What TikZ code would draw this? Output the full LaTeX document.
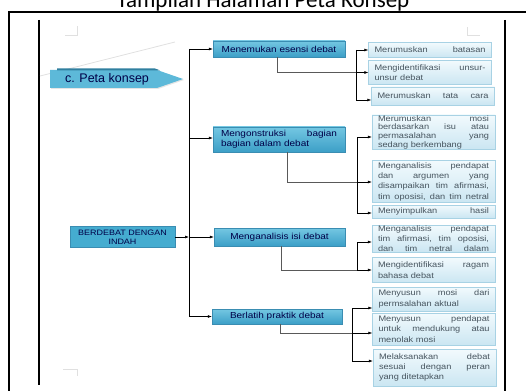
\documentclass[tikz,border=0pt]{standalone}
\usepackage{fontspec}
\setmainfont{Liberation Sans}
\newfontfamily\titlefont{Carlito}
\newfontfamily\wf[FakeStretch=1.15]{Liberation Sans}
\usetikzlibrary{arrows.meta,shadows}
\colorlet{boxtext}{black!72!blue}
\colorlet{leaftext}{black!72!cyan}
\definecolor{lonetop}{HTML}{74C7E2}
\definecolor{lonebot}{HTML}{3C9FC7}
\definecolor{loneborder}{HTML}{3A8DB2}
\definecolor{leaftop}{HTML}{F2FAFD}
\definecolor{leafbot}{HTML}{CBE6F2}
\definecolor{leafborder}{HTML}{A8D2E4}
\definecolor{rootfill}{HTML}{45ACD0}
\definecolor{arrowfill}{HTML}{5DB9D9}
\tikzset{
  lvlbox/.style={draw=loneborder, line width=0.4pt, top color=lonetop, bottom color=lonebot,
    text=boxtext, font=\wf\fontsize{8.7}{10}\selectfont, inner sep=0pt,
    drop shadow={shadow xshift=0.8pt, shadow yshift=-0.8pt, opacity=0.35}},
  leaf/.style={draw=leafborder, line width=0.4pt, top color=leaftop, bottom color=leafbot,
    text=leaftext, font=\wf\fontsize{8}{10.3}\selectfont, align=left, inner sep=0pt,
    text width=111pt, minimum width=123pt,
    drop shadow={shadow xshift=0.7pt, shadow yshift=-0.7pt, opacity=0.25}},
  arr/.style={-{Latex[length=4pt,width=3pt]}, line width=0.6pt, black},
  trunkline/.style={line width=0.6pt, black},
  downline/.style={line width=0.9pt, black!65},
  faint/.style={line width=0.8pt, black!12},
}
\begin{document}
\begin{tikzpicture}[x=1pt,y=-1pt]
\useasboundingbox (0,0) rectangle (526,390);
% title (cut off at the top, as in the reference)
\node[font=\titlefont\fontsize{23}{25}\selectfont, anchor=base] (title) at (263,8) {Tampilan Halaman Peta Konsep};
% frame
\draw[line width=1.4pt] (9,395) -- (9,12) -- (530,12);
\draw[line width=2.8pt] (505,20) -- (505,395);
\draw[line width=1.3pt] (39,20) -- (39,385);
% faint scan marks
\draw[faint] (40,76) -- (175,42);
\draw[faint] (65,35) -- (77,35) -- (77,26);
\draw[faint] (480,35) -- (467,35) -- (467,27);
\draw[faint] (63,369) -- (77,369) -- (77,376);
% c. Peta konsep arrow shape
\fill[black!10] (51,71) -- (158,71) -- (184,80) -- (158,89) -- (51,89) -- cycle;
\fill[arrowfill] (50,70) -- (157,70) -- (183,79) -- (157,88) -- (50,88) -- cycle;
\fill[lonebot!80!black] (57,68.5) -- (155,68.5) -- (160,70.3) -- (57,70.3) -- cycle;
% root box
\node[draw=loneborder, line width=0.4pt, fill=rootfill, minimum width=105pt, minimum height=21pt,
  inner sep=0pt] (root) at (122.5,237) {};
% level one
\node[lvlbox, minimum width=132pt, minimum height=16pt] (b1) at (279,49) {Menemukan esensi debat};
\node[lvlbox, minimum width=132pt, minimum height=25pt, text width=116pt, align=left] (b2) at (279,139.5) {Mengonstruksi\hfill bagian\\bagian dalam debat};
\node[lvlbox, minimum width=131pt, minimum height=18pt] (b3) at (279.5,237) {Menganalisis isi debat};
\node[lvlbox, minimum width=130pt, minimum height=15pt] (b4) at (277,316.5) {Berlatih praktik debat};
% leaves group 1
\node[leaf, minimum height=15pt] (l11) at (430,50) {Merumuskan\hfill batasan};
\node[leaf, minimum height=24pt] (l12) at (430,72.5) {Mengidentifikasi\hfill unsur-\\unsur debat};
\node[leaf, minimum height=18pt] (l13) at (433,96) {Merumuskan\hfill tata\hfill cara};
% leaves group 2
\node[leaf, minimum height=34pt, font=\wf\fontsize{8}{8.7}\selectfont] (l21) at (433.5,132) {Merumuskan\hfill mosi\\berdasarkan\hfill isu\hfill atau\\permasalahan\hfill yang\\sedang berkembang};
\node[leaf, minimum height=42pt] (l22) at (433.5,181.5) {Menganalisis\hfill pendapat\\dan\hfill argumen\hfill yang\\disampaikan\hfill tim\hfill afirmasi,\\tim\hfill oposisi,\hfill dan\hfill tim\hfill netral};
\node[leaf, minimum height=13pt] (l23) at (433.5,211.5) {Menyimpulkan\hfill hasil};
% leaves group 3
\node[leaf, minimum height=27pt] (l31) at (433.5,238.5) {Menganalisis\hfill pendapat\\tim\hfill afirmasi,\hfill tim\hfill oposisi,\\dan\hfill tim\hfill netral\hfill dalam};
\node[leaf, minimum height=25pt] (l32) at (433.5,270) {Mengidentifikasi\hfill ragam\\bahasa debat};
% leaves group 4
\node[leaf, minimum height=24pt] (l41) at (434,299) {Menyusun\hfill mosi\hfill dari\\permsalahan aktual};
\node[leaf, minimum height=32pt] (l42) at (434,329) {Menyusun\hfill pendapat\\untuk\hfill mendukung\hfill atau\\menolak mosi};
\node[leaf, minimum height=37pt] (l43) at (434.5,367.5) {Melaksanakan\hfill debat\\sesuai\hfill dengan\hfill peran\\yang ditetapkan};
% texts of the left shapes, set last
\node[font=\fontsize{12.5}{14}\selectfont, text=boxtext] (pk) at (107,79.5) {c. Peta konsep};
\node[align=center, font=\wf\fontsize{7.8}{9}\selectfont, text=boxtext] (roottext) at (root.center) {BERDEBAT DENGAN\\INDAH};
% trunk coordinates
\coordinate (tr) at (189,0);
\coordinate (t1) at (356,0);
\coordinate (t2) at (357,0);
\coordinate (t3) at (357,0);
\coordinate (t4) at (352,0);
\coordinate (d1) at (277,72.5);
\coordinate (d2) at (287,182);
\coordinate (d3) at (281,270);
\coordinate (d4) at (280,333);
% main trunk
\draw[trunkline] (tr |- b1.west) -- (tr |- b4.west);
\draw[arr] (root.east) -- (root.east -| tr);
\draw[arr] (tr |- b1.west) -- (b1.west);
\draw[arr] ([yshift=1.5pt]b2.west -| tr) -- ([yshift=1.5pt]b2.west);
\draw[arr] (tr |- b3.west) -- (b3.west);
\draw[arr] (tr |- b4.west) -- (b4.west);
% group 1
\draw[downline] (b1.south -| d1) -- (d1) -- (d1 -| t1);
\draw[trunkline] (t1 |- l11.west) -- ([yshift=-4pt]l13.west -| t1);
\draw[arr] (t1 |- l11.west) -- (l11.west);
\draw[arr] (d1 -| t1) -- (d1 -| l12.west);
\draw[arr] ([yshift=-4pt]l13.west -| t1) -- ([yshift=-4pt]l13.west);
% group 2
\draw[downline] (b2.south -| d2) -- (d2) -- (d2 -| t2);
\draw[trunkline] ([yshift=-5pt]l21.west -| t2) -- ([yshift=-1.5pt]l23.west -| t2);
\draw[arr] ([yshift=-5pt]l21.west -| t2) -- ([yshift=-5pt]l21.west);
\draw[arr] (d2 -| t2) -- (d2 -| l22.west);
\draw[arr] ([yshift=-1.5pt]l23.west -| t2) -- ([yshift=-1.5pt]l23.west);
% group 3
\draw[downline] (b3.south -| d3) -- (d3) -- (d3 -| t3);
\draw[trunkline] ([yshift=-3.5pt]l31.west -| t3) -- (d3 -| t3);
\draw[arr] ([yshift=-3.5pt]l31.west -| t3) -- ([yshift=-3.5pt]l31.west);
\draw[arr] (d3 -| t3) -- (d3 -| l32.west);
% group 4
\draw[downline] (b4.south -| d4) -- (d4) -- (d4 -| t4);
\draw[trunkline] ([yshift=-9pt]l41.west -| t4) -- ([yshift=6.5pt]l43.west -| t4);
\draw[arr] ([yshift=-9pt]l41.west -| t4) -- ([yshift=-9pt]l41.west);
\draw[arr] (d4 -| t4) -- (d4 -| l42.west);
\draw[arr] ([yshift=6.5pt]l43.west -| t4) -- ([yshift=6.5pt]l43.west);
\end{tikzpicture}
\end{document}
